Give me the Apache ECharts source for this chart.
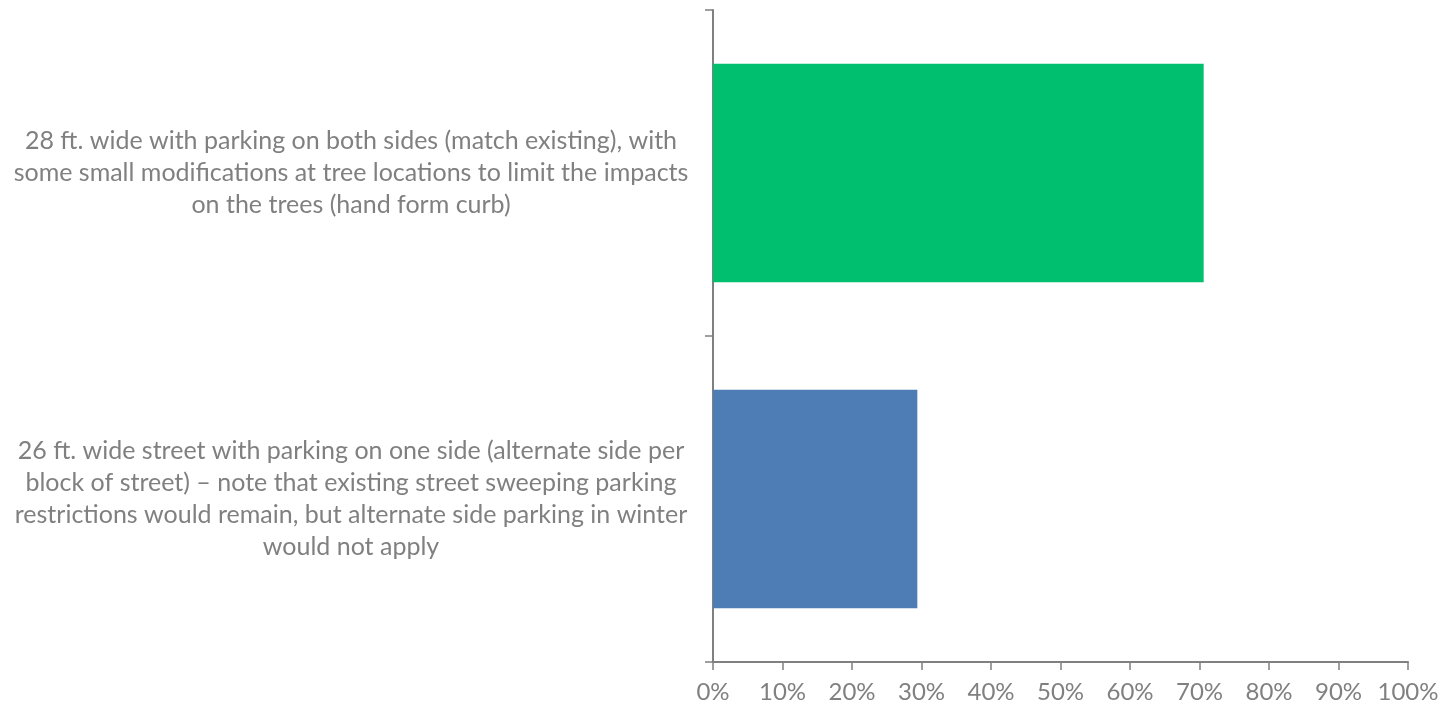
<!DOCTYPE html>
<html>
<head>
<meta charset="utf-8">
<script src="https://cdn.jsdelivr.net/npm/echarts@6/dist/echarts.min.js"></script>
<style>
html,body{margin:0;padding:0;background:#fff;}
#chart{width:1445px;height:710px;}
</style>
</head>
<body>
<div id="chart"></div>
<script>
const categories = [
  "26 ft. wide street with parking on one side (alternate side per\nblock of street) \u2013 note that existing street sweeping parking\nrestrictions would remain, but alternate side parking in winter\nwould not apply",
  "28 ft. wide with parking on both sides (match existing), with\nsome small modifications at tree locations to limit the impacts\non the trees (hand form curb)"
];
const values = [29.4, 70.6];
const barColors = ["#4E7CB5", "#00BF6F"];

const chart = echarts.init(document.getElementById('chart'));
chart.setOption({
  animation: false,
  grid: {left: 713, right: 37, top: 10, bottom: 48, containLabel: false},
  xAxis: {
    type: 'value', min: 0, max: 100, interval: 10,
    axisLine: {show: true, lineStyle: {color: '#808080', width: 2}},
    axisTick: {show: true, length: 8, lineStyle: {color: '#808080', width: 1.5}},
    splitLine: {show: false},
    axisLabel: {formatter: '{value}%', color: '#808080', fontSize: 24, fontFamily: 'Lato', margin: 18}
  },
  yAxis: {
    type: 'category', data: categories,
    axisLine: {show: true, lineStyle: {color: '#808080', width: 2}},
    axisTick: {show: true, length: 8, lineStyle: {color: '#808080', width: 1.5}},
    axisLabel: {color: '#808080', fontSize: 25, fontFamily: 'Lato', lineHeight: 32, align: 'center', margin: 362}
  },
  series: [{
    type: 'bar',
    data: values.map((v, i) => ({value: v, itemStyle: {color: barColors[i]}})),
    barWidth: '67%'
  }]
});
</script>
</body>
</html>
